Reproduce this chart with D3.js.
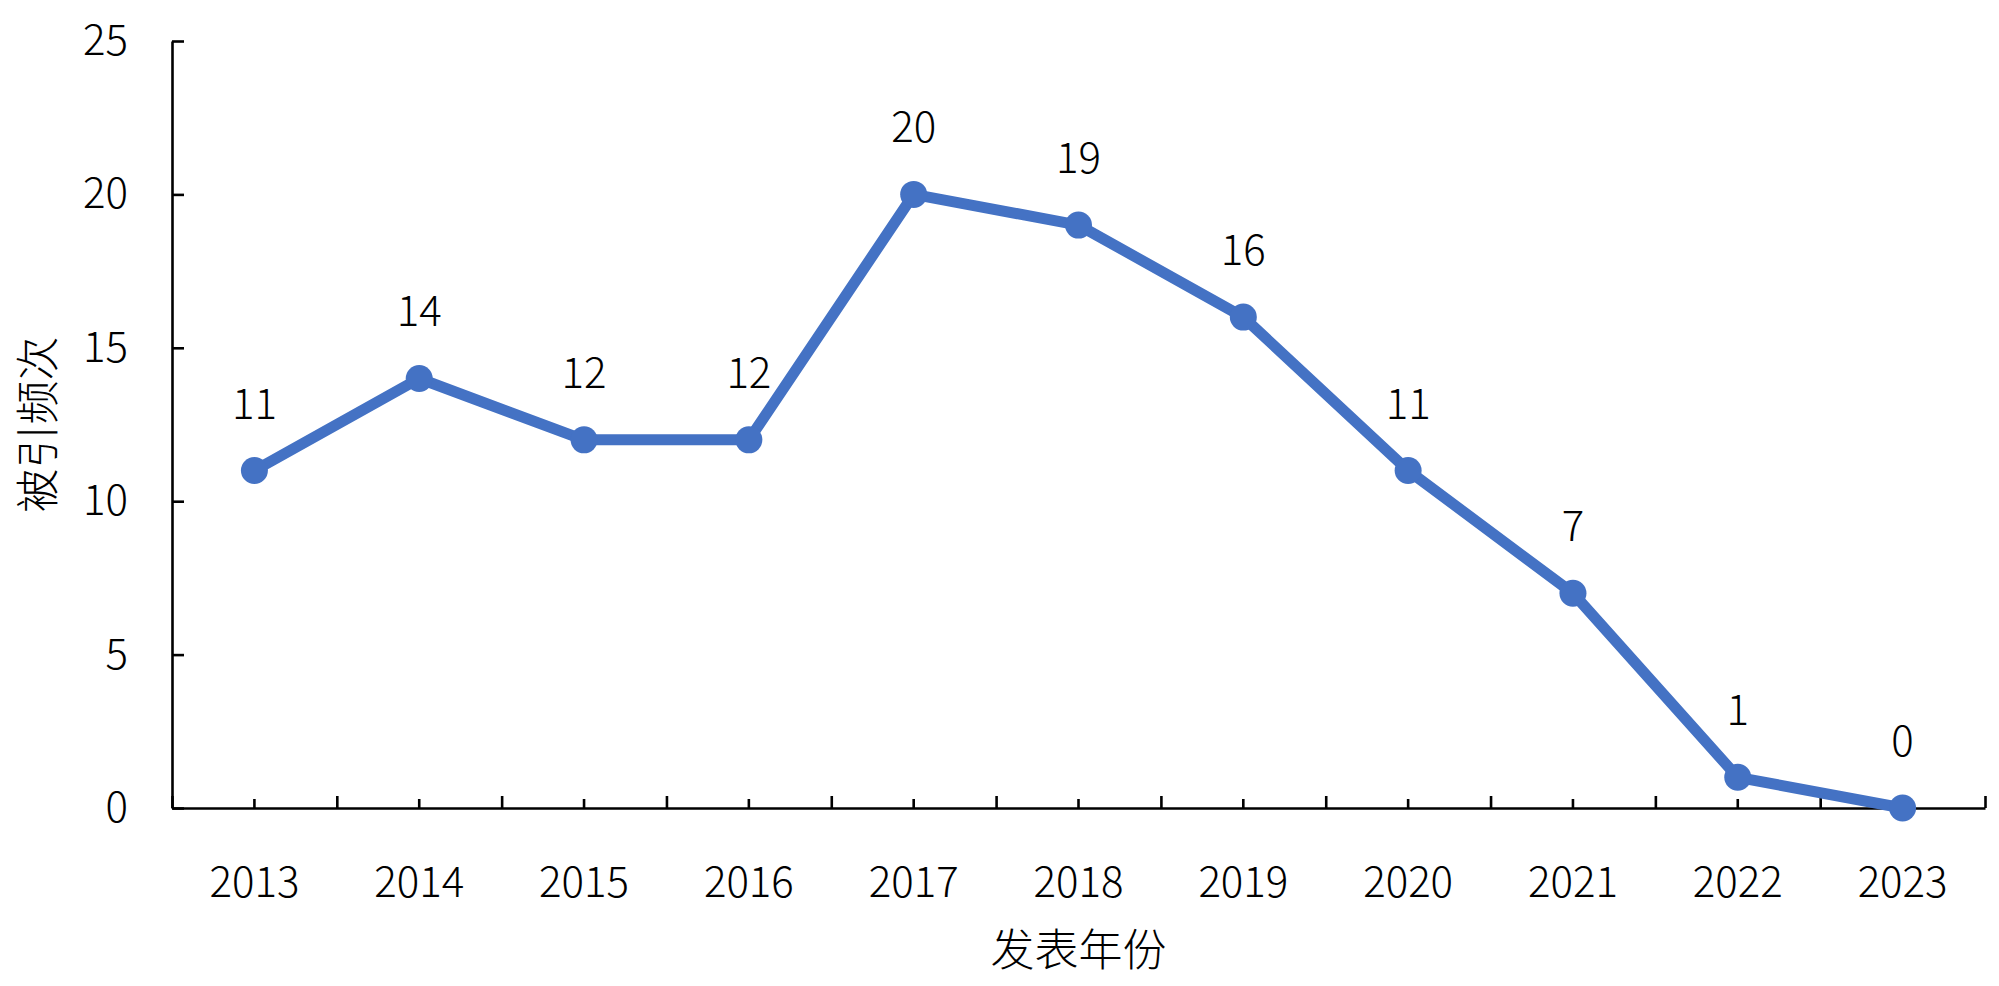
<!DOCTYPE html>
<html><head><meta charset="utf-8">
<script src="https://cdn.jsdelivr.net/npm/d3@7"></script>
<style>html,body{margin:0;padding:0;background:#fff;}svg{display:block;}</style>
</head><body>
<script>
const years = ["2013","2014","2015","2016","2017","2018","2019","2020","2021","2022","2023"];
const citations = [11,14,12,12,20,19,16,11,7,1,0];
const yTicks = [0,5,10,15,20,25];
const xTitle = "发表年份";
const yTitle = "被引频次";

const W = 1999, H = 986;
const L = 172, R = 1985, T = 41, B = 808;
const font = "'Noto Sans CJK SC','Noto Sans',sans-serif";
const fs = 42;
const fw = 300;
const blue = "#4472C4";

const svg = d3.select("body").append("svg").attr("width", W).attr("height", H);

const x = d3.scaleBand().domain(years).range([L, R]).padding(0);
const xIdx = d3.scaleLinear().domain([0, years.length]).range([L, R]);
const y = d3.scaleLinear().domain([0, 25]).range([B, T]);

// Y axis
const gy = svg.append("g").attr("transform", `translate(${L},0)`)
  .call(d3.axisLeft(y).tickValues(yTicks).tickSizeInner(-12).tickSizeOuter(0).tickPadding(44));
gy.select(".domain").attr("stroke", "#000").attr("stroke-width", 2.6);
gy.selectAll(".tick line").attr("stroke", "#000").attr("stroke-width", 2.6);
gy.selectAll(".tick text").attr("font-family", font).attr("font-size", fs).attr("font-weight", fw).attr("fill", "#000");

// X axis major ticks (category boundaries), pointing inward
const gxMajor = svg.append("g").attr("transform", `translate(0,${B})`)
  .call(d3.axisTop(xIdx).tickValues(d3.range(0, years.length + 1)).tickSizeInner(12).tickSizeOuter(0).tickFormat(""));
gxMajor.select(".domain").attr("stroke", "#000").attr("stroke-width", 2.6);
gxMajor.selectAll(".tick line").attr("stroke", "#000").attr("stroke-width", 2.6);

// X axis minor ticks at category centres + labels
const gx = svg.append("g").attr("transform", `translate(0,${B})`)
  .call(d3.axisTop(x).tickSizeInner(9).tickSizeOuter(0).tickFormat(""));
gx.select(".domain").remove();
gx.selectAll(".tick line").attr("stroke", "#000").attr("stroke-width", 2.6);

const gxl = svg.append("g").attr("transform", `translate(0,${B})`)
  .call(d3.axisBottom(x).tickSize(0).tickPadding(59));
gxl.select(".domain").remove();
gxl.selectAll(".tick text").attr("font-family", font).attr("font-size", fs).attr("font-weight", fw).attr("fill", "#000");

// Line
const cx = d => x(d.year) + x.bandwidth() / 2;
const data = years.map((yr, i) => ({year: yr, v: citations[i]}));
svg.append("path").datum(data)
  .attr("fill", "none").attr("stroke", blue).attr("stroke-width", 11)
  .attr("stroke-linejoin", "round")
  .attr("d", d3.line().x(cx).y(d => y(d.v)));

svg.selectAll("circle.pt").data(data).join("circle")
  .attr("class", "pt").attr("cx", cx).attr("cy", d => y(d.v)).attr("r", 13.5)
  .attr("fill", blue);

// Data labels
svg.selectAll("text.lbl").data(data).join("text")
  .attr("class", "lbl").attr("x", cx).attr("y", d => y(d.v) - 52)
  .attr("text-anchor", "middle").attr("font-family", font).attr("font-size", fs).attr("font-weight", fw).attr("fill", "#000")
  .text(d => d.v);

// Titles
svg.append("text").attr("x", (L + R) / 2).attr("y", 966).attr("text-anchor", "middle")
  .attr("font-family", font).attr("font-size", 44).attr("font-weight", fw).attr("fill", "#000").text(xTitle);
svg.append("text").attr("transform", `translate(35,${(T + B) / 2}) rotate(-90)`)
  .attr("text-anchor", "middle").attr("dominant-baseline", "central")
  .attr("font-family", font).attr("font-size", 44).attr("font-weight", fw).attr("fill", "#000").text(yTitle);
</script>
</body></html>
